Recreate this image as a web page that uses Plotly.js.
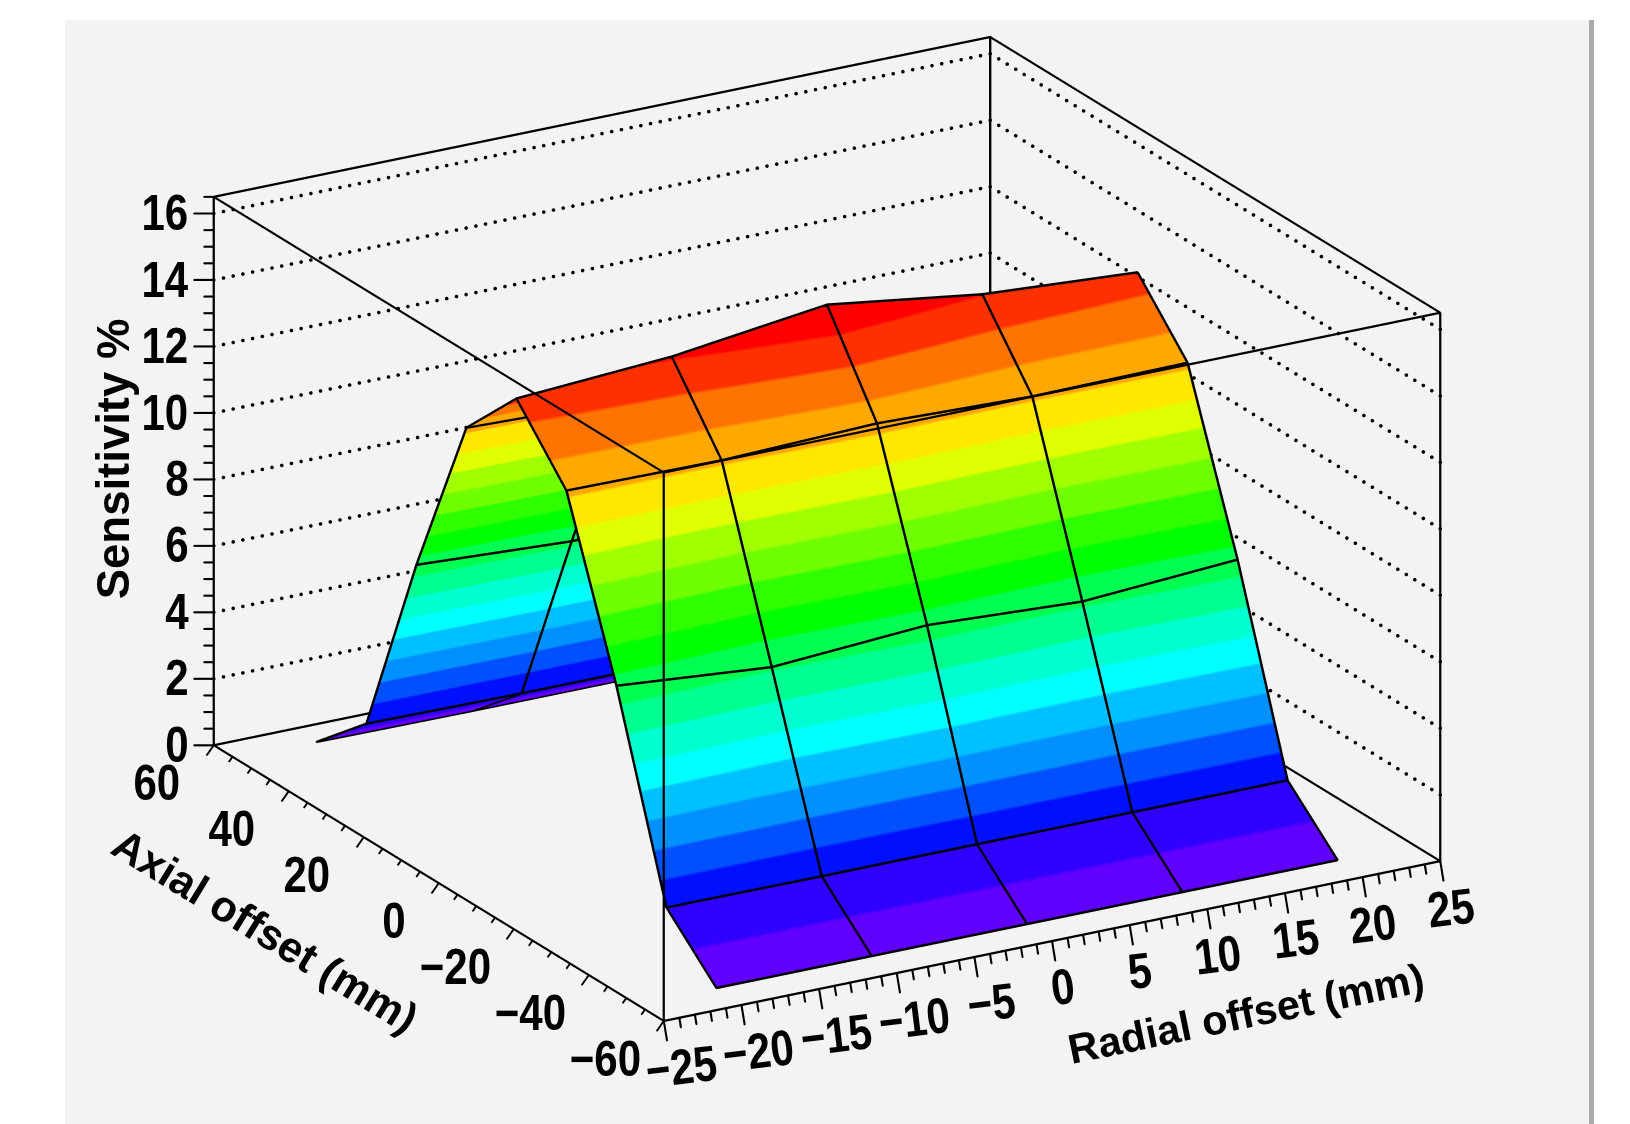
<!DOCTYPE html>
<html><head><meta charset="utf-8">
<script src="https://cdn.plot.ly/plotly-3.0.1.min.js"></script>
<style>html,body{margin:0;padding:0;background:#fff;overflow:hidden}#g{width:1630px;height:1124px}</style>
</head><body><div id="g"></div>
<script>
const radial=[-20,-10,0,10,20];
const axial=[-53.33,-40,-26.67,-13.33,0,13.33,26.67,40,53.33];
const row1=[0.05,0.05,0.05,0.05,0.05];
const row2=[1.55,1.53,1.53,1.53,1.53];
const row3=[7.3,6.9,7.2,6.95,7.25];
const row4=[12.25,12.2,12.35,12.2,12.25];
const row5=[14.1,14.4,15.0,14.35,14.05];
const row6=[12.3,12.15,12.2,12.2,12.2];
const row7=[7.25,7.0,7.1,7.0,7.2];
const row8=[1.55,1.5,1.5,1.5,1.5];
const row9=[0.08,0.05,0.05,0.05,0.05];
const sensitivity=[row1,row2,row3,row4,row5,row6,row7,row8,row9];
const bandColors=['#6000ff','#3000ff','#0010ff','#0050ff','#0090ff','#00c0ff','#00ffff','#00ffd0','#00ff90','#00ff50','#00ff00','#30ff00','#70ff00','#a0ff00','#e0ff00','#ffe800','#ffa800','#ff7400','#ff3000','#ff0000'];
const zTickLabels=[0,2,4,6,8,10,12,14,16];
const xTickLabels=[-25,-20,-15,-10,-5,0,5,10,15,20,25];
const yTickLabels=[60,40,20,0,-20,-40,-60];
const X0=-25,X1=25,Y0=-60,Y1=60,Z0=0,Z1=16.5;
const BAND=0.758;

const nb=bandColors.length, cmax=BAND*nb;
const colorscale=[];
bandColors.forEach((c,i)=>{colorscale.push([i/nb,c]);colorscale.push([(i+1)/nb,c]);});

const PX_Z=1/33.3, PX_X=1/15.57;
const VIEW=[-0.2408,-1,0.0922];
function thick(pts,half,lift){
  const off=[[0,0],[half,0],[-half,0],[0,half],[0,-half]];
  const x=[],y=[],z=[];
  off.forEach(o=>{
    const dx=o[0]*PX_X, dz=o[1]*PX_Z-o[0]*PX_X*3.2*PX_Z;
    pts.forEach(p=>{
      if(p===null){x.push(null);y.push(null);z.push(null);}
      else{x.push(p[0]+dx+VIEW[0]*lift);y.push(p[1]+VIEW[1]*lift);z.push(p[2]+dz+VIEW[2]*lift);}
    });
    x.push(null);y.push(null);z.push(null);
  });
  return {type:'scatter3d',mode:'lines',x,y,z,line:{color:'#000',width:2},hoverinfo:'skip',showlegend:false,connectgaps:false};
}
const traces=[];
traces.push({type:'surface',x:radial,y:axial,z:sensitivity,cmin:0,cmax:cmax,colorscale,showscale:false,hoverinfo:'skip',
  lighting:{ambient:1,diffuse:0,specular:0,roughness:1,fresnel:0},opacity:1});
const mesh=[];
axial.forEach((a,j)=>{radial.forEach((r,i)=>mesh.push([r,a,sensitivity[j][i]]));mesh.push(null);});
radial.forEach((r,i)=>{axial.forEach((a,j)=>mesh.push([r,a,sensitivity[j][i]]));mesh.push(null);});
traces.push(thick(mesh,0.75,0.6));
const box=[];
[[X0,Y0],[X1,Y0],[X1,Y1],[X0,Y1]].forEach(c=>{box.push([c[0],c[1],Z0],[c[0],c[1],Z1],null);});
[Z0,Z1].forEach(z=>{box.push([X0,Y0,z],[X1,Y0,z],[X1,Y1,z],[X0,Y1,z],[X0,Y0,z],null);});
traces.push(thick(box,0.65,0));
const gx=[],gy=[],gz=[];
zTickLabels.filter(z=>z>0).forEach(z=>{
  for(let k=0;k<80;k++){gx.push(X0+(X1-X0)*k/80);gy.push(Y1);gz.push(z);}
  for(let k=0;k<=53;k++){gx.push(X1);gy.push(Y1+(Y0-Y1)*k/53);gz.push(z);}
});
traces.push({type:'scatter3d',mode:'markers',x:gx,y:gy,z:gz,marker:{color:'#000',size:2.1,symbol:'circle',line:{width:0}},hoverinfo:'skip',showlegend:false});
const ticks=[];
for(let v=-25;v<=25;v+=1){const k=(v%5===0)?1:0.5;ticks.push([v,Y0,0],[v+0.21*k,Y0,-0.62*k],null);}
for(let v=-60;v<=60;v+=5){const k=(v%20===0)?1:0.5;ticks.push([X0,v,0],[X0-0.45*k,v,-0.257*k],null);}
for(let v=0;v<=16.5;v+=0.5){const k=(v%2===0)?1:0.5;ticks.push([X0,Y1,v],[X0-1.285*k,Y1,v+0.123*k],null);}
traces.push(thick(ticks,0.55,0));

const TICK_SIZE=50;
const tickFont={family:'"Liberation Sans",sans-serif',size:TICK_SIZE,color:'#000'};
const ann=[];
function add(x,y,z,text,xs,ys,angle,font){
  ann.push({x,y,z,text:'<b>'+text+'</b>',showarrow:false,xanchor:'center',yanchor:'middle',xshift:xs,yshift:ys,textangle:angle,font});
}
const fmt=v=>String(v).replace('-','\u2212');
zTickLabels.forEach(v=>add(X0,Y1,v,fmt(v),v>=10?-49:-37,0,0,tickFont));
yTickLabels.forEach(v=>add(X0,v,0,fmt(v),v<0?-58:(v===0?-45:-57),-38.5,0,tickFont));
xTickLabels.forEach(v=>add(v,Y0,0,fmt(v),v<0?17.7:11,-46.8,-7,tickFont));
const tf=s=>({family:'"Liberation Sans",sans-serif',size:s,color:'#000'});
add(X0,Y1,8.25,'Sensitivity %',-100,12,-90,tf(45.5));
add(X0,0,0,'Axial offset (mm)',-173,-48,31.5,tf(43));
add(0,Y0,0,'Radial offset (mm)',194,-73,-11.6,tf(41.5));

const alpha=59.9*Math.PI/180, el=20.8*Math.PI/180, D=2;
const ZOOM=1.864;
const hidden={visible:false,showgrid:false,zeroline:false,showline:false,showticklabels:false,showspikes:false,showbackground:false,title:{text:''}};
const layout={
  width:1630,height:1124,margin:{l:0,r:0,t:0,b:0},paper_bgcolor:'#ffffff',showlegend:false,
  shapes:[
    {type:'rect',xref:'paper',yref:'paper',x0:65/1630,x1:1589/1630,y0:0,y1:1-20/1124,fillcolor:'#f3f3f3',line:{width:0},layer:'below'},
    {type:'rect',xref:'paper',yref:'paper',x0:1589/1630,x1:1594/1630,y0:0,y1:1-20/1124,fillcolor:'#aaaaaa',line:{width:0},layer:'below'}
  ],
  scene:{
    domain:{x:[0.0165,0.998],y:[0.0671,0.9923]},
    bgcolor:'rgba(0,0,0,0)',
    xaxis:Object.assign({},hidden,{range:[-27,27]}),
    yaxis:Object.assign({},hidden,{range:[-62,62]}),
    zaxis:Object.assign({},hidden,{range:[-1,17.5]}),
    aspectmode:'manual',aspectratio:{x:ZOOM,y:0.9567*ZOOM,z:0.6786*ZOOM},
    camera:{projection:{type:'orthographic'},up:{x:0,y:0,z:1},center:{x:0,y:0,z:0},
      eye:{x:-D*Math.cos(alpha)*Math.cos(el),y:-D*Math.sin(alpha)*Math.cos(el),z:D*Math.sin(el)}},
    annotations:ann
  }
};
function condense(){
  document.querySelectorAll('.annotation-text').forEach(t=>{
    if(parseFloat(t.style.fontSize)===TICK_SIZE && !t.getAttribute('textLength')){
      const w=t.getComputedTextLength();
      t.setAttribute('textLength',(w*0.84).toFixed(1));
      t.setAttribute('lengthAdjust','spacingAndGlyphs');
    }
  });
}
Plotly.newPlot('g',traces,layout,{displayModeBar:false}).then(gd=>{
  condense();
  setTimeout(condense,50);setTimeout(condense,300);
  gd.on('plotly_afterplot',condense);
});
</script></body></html>
